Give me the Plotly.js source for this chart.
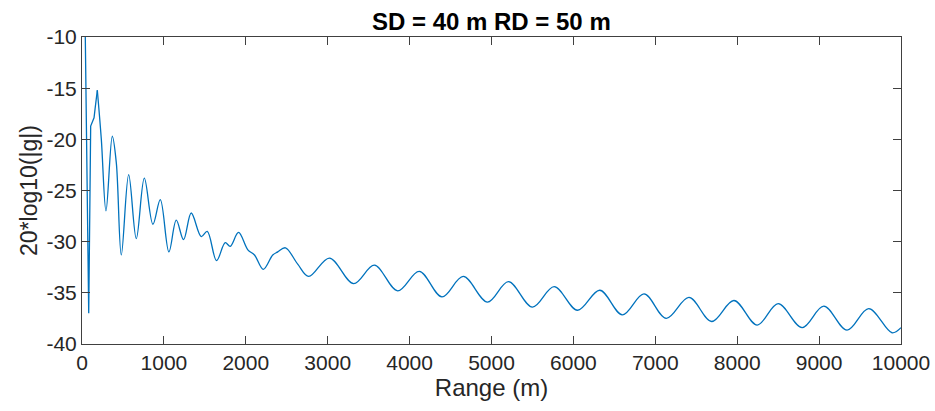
<!DOCTYPE html>
<html>
<head>
<meta charset="utf-8">
<script src="https://cdn.plot.ly/plotly-3.0.1.min.js"></script>
<style>html,body{margin:0;padding:0;background:#fff;}#chart{width:935px;height:411px;}</style>
</head>
<body>
<div id="chart"></div>
<script>
// Near-field part (sharp, drawn with straight segments)
var rangeNear = [38, 82, 106, 128, 147, 160, 187];
var levelNear = [-8.5, -37.0, -18.7, -18.3, -17.9, -17.0, -15.2];

// Remaining part (smooth oscillations)
var rangeFar = [187, 236, 293, 370, 419, 480, 570, 663, 761, 866, 956, 1061, 1151, 1240, 1334, 1456, 1529, 1643, 1749, 1810, 1911, 2025, 2106, 2214, 2329, 2390, 2484, 2634, 2768, 3021, 3317, 3570, 3854, 4118, 4395, 4655, 4951, 5207, 5500, 5765, 6050, 6322, 6598, 6862, 7134, 7411, 7688, 7960, 8244, 8500, 8793, 9057, 9341, 9606, 9890, 10000];
var levelFar = [-15.2, -20.0, -27.0, -19.7, -22.3, -31.3, -23.45, -29.7, -23.8, -28.3, -25.9, -31.0, -27.9, -29.8, -27.2, -29.5, -29.0, -31.85, -30.1, -30.45, -29.1, -30.8, -31.3, -32.7, -31.3, -31.0, -30.6, -32.2, -33.4, -31.6, -34.1, -32.3, -34.8, -32.9, -35.4, -33.4, -35.9, -33.9, -36.4, -34.4, -36.7, -34.75, -37.15, -35.1, -37.5, -35.45, -37.8, -35.75, -38.15, -36.05, -38.4, -36.3, -38.65, -36.55, -38.9, -38.4];

var xTicks = [0, 1000, 2000, 3000, 4000, 5000, 6000, 7000, 8000, 9000, 10000];
var yTicks = [-40, -35, -30, -25, -20, -15, -10];

var lineColor = '#0072BD';
var axisColor = '#404040';
var textColor = '#262626';
var fontFam = 'Arial, "Liberation Sans", Helvetica, sans-serif';

var traces = [
  {x: rangeNear, y: levelNear, type: 'scatter', mode: 'lines',
   line: {color: lineColor, width: 1.3, shape: 'linear'}, hoverinfo: 'skip', showlegend: false},
  {x: rangeFar, y: levelFar, type: 'scatter', mode: 'lines',
   line: {color: lineColor, width: 1.3, shape: 'spline', smoothing: 1}, hoverinfo: 'skip', showlegend: false}
];

var axisCommon = {
  showgrid: false, zeroline: false, showline: true, linecolor: axisColor, linewidth: 1,
  mirror: 'ticks', ticks: 'inside', ticklen: 8, tickwidth: 1, tickcolor: axisColor,
  tickfont: {family: fontFam, size: 21, color: textColor}
};

var layout = {
  width: 935, height: 411,
  margin: {l: 82, r: 34, t: 37, b: 67, pad: 0},
  paper_bgcolor: '#fff', plot_bgcolor: '#fff',
  showlegend: false,
  title: {text: '<b>SD = 40 m RD = 50 m</b>', x: 0.5255, xanchor: 'center', y: 0.928, yanchor: 'bottom',
          font: {family: fontFam, size: 24, color: '#000'}},
  xaxis: Object.assign({}, axisCommon, {
    range: [0, 10000], tickmode: 'array', tickvals: xTicks, ticktext: xTicks.map(String),
    title: {text: 'Range (m)', font: {family: fontFam, size: 24, color: textColor}, standoff: 4}
  }),
  yaxis: Object.assign({}, axisCommon, {
    range: [-40, -10], tickmode: 'array', tickvals: yTicks, ticktext: yTicks.map(String),
    title: {text: '20*log10(|g|)', font: {family: fontFam, size: 23, color: textColor}, standoff: 2}
  })
};

Plotly.newPlot('chart', traces, layout, {staticPlot: true, displayModeBar: false});
</script>
</body>
</html>
